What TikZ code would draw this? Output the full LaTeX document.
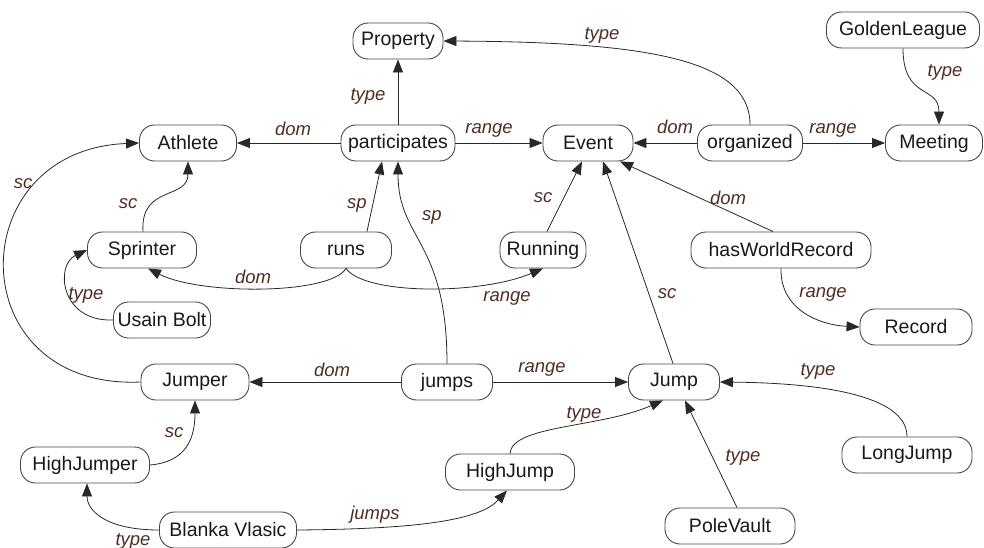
\documentclass[tikz,border=0pt]{standalone}
\usepackage{fontspec}
\setmainfont{Liberation Sans}
\usetikzlibrary{arrows.meta}
\definecolor{lblcol}{RGB}{80,45,35}
\definecolor{boxcol}{RGB}{70,70,70}
\definecolor{linecol}{RGB}{40,40,40}
\tikzset{
  nd/.style={draw=boxcol, line width=0.9pt, rounded corners=15pt, minimum height=36pt,
             inner sep=2pt, font=\fontsize{19.5}{23}\selectfont, text=black!90},
  lbl/.style={font=\fontsize{18.5}{22}\selectfont\itshape, text=lblcol, inner sep=0pt},
  rel/.style={draw=linecol, line width=0.8pt, -{Triangle[length=13pt,width=10pt]}}
}
\begin{document}
\begin{tikzpicture}[x=1pt,y=-1pt]
\useasboundingbox (0,0) rectangle (984,548);
% classes and properties
\node[nd, minimum width=90pt]  (property)    at (398,41)  {Property};
\node[nd, minimum width=153pt] (golden)      at (903,30)  {GoldenLeague};
\node[nd, minimum width=97pt]  (athlete)     at (188,143) {Athlete};
\node[nd, minimum width=114pt] (participates) at (398,143) {participates};
\node[nd, minimum width=90pt]  (event)       at (588,143) {Event};
\node[nd, minimum width=105pt] (organized)   at (750,143) {organized};
\node[nd, minimum width=97pt]  (meeting)     at (934,143) {Meeting};
\node[nd, minimum width=109pt] (sprinter)    at (142,250) {Sprinter};
\node[nd, minimum width=91pt]  (runs)        at (346,250) {runs};
\node[nd, minimum width=86pt]  (running)     at (543,250) {Running};
\node[nd, minimum width=180pt] (hasworld)    at (781,250) {hasWorldRecord};
\node[nd, minimum width=97pt]  (usain)       at (162,320) {Usain Bolt};
\node[nd, minimum width=112pt] (record)      at (916,327) {Record};
\node[nd, minimum width=108pt] (jumper)      at (195,382) {Jumper};
\node[nd, minimum width=91pt]  (jumps)       at (447,382) {jumps};
\node[nd, minimum width=91pt]  (jump)        at (674,382) {Jump};
\node[nd, minimum width=129pt] (highjumper)  at (85,465)  {HighJumper};
\node[nd, minimum width=129pt] (highjump)    at (510,472) {HighJump};
\node[nd, minimum width=130pt] (longjump)    at (907,455) {LongJump};
\node[nd, minimum width=137pt] (blanka)      at (228,530) {Blanka Vlasic};
\node[nd, minimum width=130pt] (polevault)   at (730,526) {PoleVault};

% relations
\draw[rel] (participates.north) -- (property.south)
  node[lbl] at (368,96) {type};
\draw[rel] (organized.north) .. controls (750,60) and (650,42) .. (property.east)
  node[lbl] at (602,35) {type};
\draw[rel] (participates) -- (athlete) node[lbl] at (293,129) {dom};
\draw[rel] (participates) -- (event) node[lbl] at (489,130) {range};
\draw[rel] (organized) -- (event) node[lbl] at (675,127) {dom};
\draw[rel] (organized) -- (meeting) node[lbl] at (833,130) {range};
\draw[rel] (golden.south) .. controls (903,100) and (939,85) .. ([xshift=5pt]meeting.north)
  node[lbl] at (945,72) {type};
\draw[rel] ([xshift=1pt]sprinter.north) .. controls (140,185) and (188,200) .. (athlete.south)
  node[lbl] at (128,204) {sc};
\draw[rel] (jumper.west) .. controls (-40,390) and (-40,150) .. (athlete.west)
  node[lbl] at (23,184) {sc};
\draw[rel] ([xshift=21pt]runs.north) -- ([xshift=-16pt]participates.south)
  node[lbl] at (357,205) {sp};
\draw[rel] (jumps.north) .. controls (447,240) and (398,240) .. (participates.south)
  node[lbl] at (432,217) {sp};
\draw[rel] (runs.south) .. controls (330,295) and (200,295) .. ([xshift=6pt]sprinter.south)
  node[lbl] at (253,277) {dom};
\draw[rel] (runs.south) .. controls (365,295) and (480,295) .. (running.south)
  node[lbl] at (507,298) {range};
\draw[rel] ([xshift=4pt]running.north) -- ([xshift=-6pt]event.south)
  node[lbl] at (543,198) {sc};
\draw[rel] (usain.west) .. controls (60,322) and (55,265) .. (sprinter.west)
  node[lbl] at (86,295) {type};
\draw[rel] ([xshift=-8pt]hasworld.north) -- ([xshift=32pt]event.south)
  node[lbl] at (728,198) {dom};
\draw[rel] (hasworld.south) .. controls (780,310) and (820,325) .. (record.west)
  node[lbl] at (823,294) {range};
\draw[rel] (jumps) -- (jumper) node[lbl] at (332,370) {dom};
\draw[rel] (jumps) -- (jump) node[lbl] at (542,369) {range};
\draw[rel] ([xshift=-1pt]jump.north) -- ([xshift=15pt]event.south)
  node[lbl] at (667,294) {sc};
\draw[rel] (highjumper.east) .. controls (185,462) and (195,440) .. (jumper.south)
  node[lbl] at (174,433) {sc};
\draw[rel] (blanka.west) .. controls (105,530) and (87,510) .. ([xshift=2pt]highjumper.south)
  node[lbl] at (133,541) {type};
\draw[rel] (blanka.east) .. controls (420,529) and (480,520) .. ([xshift=-3pt]highjump.south)
  node[lbl] at (375,515) {jumps};
\draw[rel] (highjump.north) .. controls (512,425) and (600,428) .. ([xshift=-11pt]jump.south)
  node[lbl] at (584,414) {type};
\draw[rel] ([xshift=7pt]polevault.north) -- ([xshift=11pt]jump.south)
  node[lbl] at (743,457) {type};
\draw[rel] (longjump.north) .. controls (907,395) and (820,383) .. (jump.east)
  node[lbl] at (818,371) {type};
\end{tikzpicture}
\end{document}
